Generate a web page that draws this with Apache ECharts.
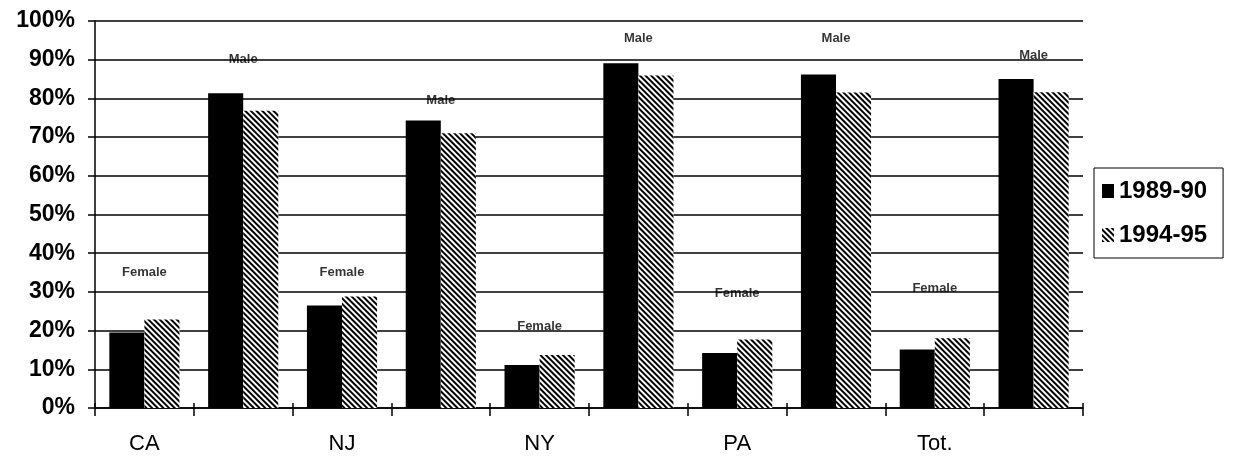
<!DOCTYPE html>
<html lang="en">
<head>
<meta charset="UTF-8">
<title>Female / Male by state</title>
<script src="https://cdn.jsdelivr.net/npm/echarts@6/dist/echarts.min.js"></script>
<style>
    html, body { margin: 0; padding: 0; background: #fff; }
    #main { width: 1245px; height: 466px; }
</style>
</head>
<body>
<div id="main"></div>
<script>
// one slot per bar pair, state name sits under the Female pair
var groups = ['CA', '', 'NJ', '', 'NY', '', 'PA', '', 'Tot.', ''];
var sexNames = ['Female', 'Male', 'Female', 'Male', 'Female', 'Male', 'Female', 'Male', 'Female', 'Male'];
var y1989 = [19.5, 81.3, 26.5, 74.3, 11.1, 89.1, 14.2, 86.2, 15.1, 85.0];
var y1994 = [22.9, 76.8, 28.8, 71.0, 13.7, 85.9, 17.7, 81.5, 18.0, 81.6];
// where the Female / Male captions float (in %)
var sexLabelY = [35, 90, 35, 79.5, 21, 95.5, 29.5, 95.4, 31, 91];

var myChart = echarts.init(document.getElementById('main'));

var hatch = {
    symbol: 'rect',
    symbolSize: 1,
    color: '#000',
    dashArrayX: [1, 0],
    dashArrayY: [2, 2],
    rotation: Math.PI / 4
};

var option = {
    animation: false,
    backgroundColor: '#fff',
    textStyle: { fontFamily: 'Liberation Sans, Arial, sans-serif', color: '#000' },
    grid: { left: 95, right: 162, top: 21, bottom: 58 },
    legend: {
        orient: 'vertical',
        left: 1094,
        top: 168,
        data: ['1989-90', '1994-95'],
        icon: 'rect',
        itemWidth: 12,
        itemHeight: 14,
        itemGap: 20,
        borderColor: '#000',
        borderWidth: 1,
        padding: [11, 16, 11, 8],
        textStyle: { fontSize: 24, fontWeight: 'bold', color: '#000' }
    },
    xAxis: [{
        type: 'category',
        data: groups,
        axisLine: { lineStyle: { color: '#000', width: 1.5 } },
        axisTick: { show: true, interval: 0, length: 8, lineStyle: { color: '#000', width: 1.5 } },
        axisLabel: { interval: 0, margin: 25, fontSize: 22, color: '#000' }
    }, {
        type: 'category',
        data: groups,
        position: 'bottom',
        axisLine: { show: false },
        axisTick: { show: true, inside: true, interval: 0, length: 5, lineStyle: { color: '#000', width: 1.5 } },
        axisLabel: { show: false }
    }],
    yAxis: {
        type: 'value',
        min: 0,
        max: 100,
        interval: 10,
        axisLine: { show: true, lineStyle: { color: '#000', width: 1.5 } },
        axisTick: { show: true, length: 7, lineStyle: { color: '#000', width: 1.5 } },
        axisLabel: { formatter: '{value}%', fontSize: 23, fontWeight: 'bold', color: '#000', margin: 20 },
        splitLine: { lineStyle: { color: '#000', width: 1.5 } }
    },
    series: [{
        name: '1989-90',
        type: 'bar',
        data: y1989,
        barGap: '0%',
        barCategoryGap: '29%',
        itemStyle: { color: '#000' }
    }, {
        name: '1994-95',
        type: 'bar',
        data: y1994,
        itemStyle: { color: '#fff', decal: hatch }
    }, {
        name: 'sex',
        type: 'scatter',
        symbolSize: 0,
        silent: true,
        data: sexLabelY.map(function (v, i) {
            return { name: sexNames[i], value: [i, v] };
        }),
        label: {
            show: true,
            position: 'inside',
            formatter: '{b}',
            fontSize: 13,
            fontWeight: 'bold',
            color: '#000'
        },
        z: 5
    }]
};

myChart.setOption(option);
</script>
</body>
</html>
